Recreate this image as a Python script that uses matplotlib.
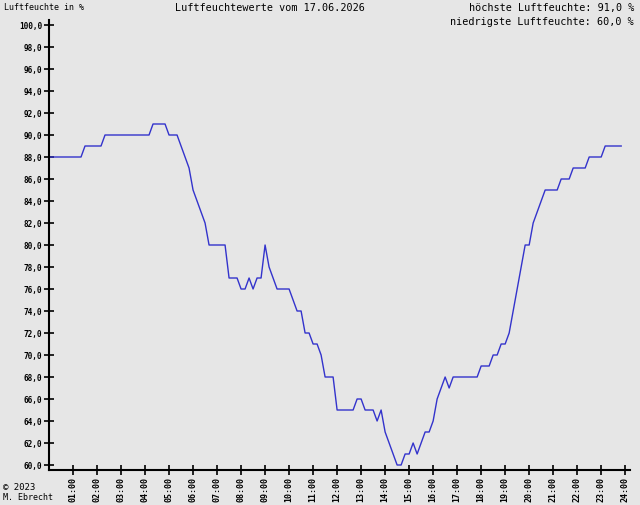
import matplotlib
matplotlib.use("Agg")
import matplotlib.pyplot as plt

# humidity every 10 minutes, 00:00 .. 23:50
hours = [k / 6 for k in range(144)]
humidity = ([88] * 9 + [89] * 5 + [90] * 12 + [91] * 4 + [90] * 3
            + [89, 88, 87, 85, 84, 83, 82] + [80] * 5 + [77] * 3
            + [76, 76, 77, 76, 77, 77, 80, 78, 77] + [76] * 4
            + [75, 74, 74, 72, 72, 71, 71, 70, 68, 68, 68] + [65] * 5
            + [66, 66, 65, 65, 65, 64, 65, 63, 62, 61, 60, 60,
               61, 61, 62, 61, 62, 63, 63, 64, 66, 67, 68, 67]
            + [68] * 7
            + [69, 69, 69, 70, 70, 71, 71, 72, 74, 76, 78, 80, 80, 82, 83, 84]
            + [85] * 4 + [86] * 3 + [87] * 4 + [88] * 4 + [89] * 5)

y_ticks = list(range(60, 101, 2))
y_labels = ["%d,0" % v for v in y_ticks]
x_ticks = list(range(1, 25))
x_labels = ["%02d:00" % h for h in x_ticks]

bg = "#e6e6e6"
mono = "DejaVu Sans Mono"

fig = plt.figure(figsize=(6.4, 5.05), dpi=100, facecolor=bg)
ax = fig.add_axes([49 / 640, 35 / 505, 581 / 640, 450 / 505])
ax.set_facecolor(bg)

ax.plot(hours, humidity, color="#3333cc", lw=1.0)

ax.set_xlim(0, 24.2)
ax.set_ylim(60 - 5 / 11, 100 + 5 / 11)
for s in ["top", "right"]:
    ax.spines[s].set_visible(False)
for s in ["left", "bottom"]:
    ax.spines[s].set_linewidth(1.5)
    ax.spines[s].set_color("black")

ax.set_yticks(y_ticks)
ax.set_yticklabels(y_labels, fontfamily=mono, fontsize=5.6, fontweight="bold")
ax.set_xticks(x_ticks)
ax.set_xticklabels(x_labels, fontfamily=mono, fontsize=6, fontweight="bold", rotation=90)
ax.tick_params(direction="inout", length=7.5, width=1.2, pad=1)

fig.text(4 / 640, 1 - 8 / 505, "Luftfeuchte in %", fontfamily=mono, fontsize=6,
         va="center", ha="left")
fig.text(270 / 640, 1 - 8 / 505, "Luftfeuchtewerte vom 17.06.2026", fontfamily=mono,
         fontsize=7.3, va="center", ha="center")
fig.text(634 / 640, 1 - 8 / 505, "höchste Luftfeuchte: 91,0 %", fontfamily=mono,
         fontsize=7.3, va="center", ha="right")
fig.text(634 / 640, 1 - 22 / 505, "niedrigste Luftfeuchte: 60,0 %", fontfamily=mono,
         fontsize=7.3, va="center", ha="right")
fig.text(3 / 640, 1 - 487 / 505, "© 2023", fontfamily=mono, fontsize=6.5,
         va="center", ha="left")
fig.text(3 / 640, 1 - 498 / 505, "M. Ebrecht", fontfamily=mono, fontsize=6,
         va="center", ha="left")

fig.savefig("out.png", dpi=100, facecolor=bg)
